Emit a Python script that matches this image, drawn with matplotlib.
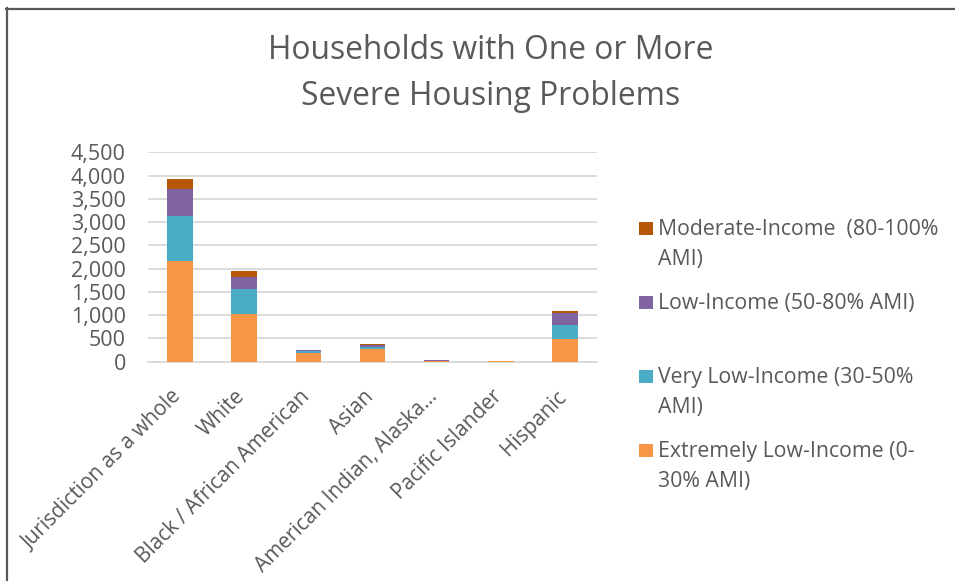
import matplotlib
matplotlib.use("Agg")
import matplotlib.pyplot as plt
from matplotlib.lines import Line2D
from matplotlib.patches import Rectangle
from matplotlib.transforms import ScaledTranslation
import numpy as np

categories = ["Jurisdiction as a whole", "White", "Black / African American", "Asian",
              "American Indian, Alaska...", "Pacific Islander", "Hispanic"]
series_names = ["Extremely Low-Income (0-\n30% AMI)",
                "Very Low-Income (30-50%\nAMI)",
                "Low-Income (50-80% AMI)",
                "Moderate-Income  (80-100%\nAMI)"]
extremely_low = [2160, 1030, 195, 280, 10, 5, 490]
very_low = [965, 525, 35, 35, 5, 0, 300]
low = [595, 260, 15, 50, 15, 0, 255]
moderate = [215, 130, 5, 10, 0, 0, 50]
yticks = [0, 500, 1000, 1500, 2000, 2500, 3000, 3500, 4000, 4500]
title_lines = ["Households with One or More", "Severe Housing Problems"]

colors = ["#F79646", "#4BACC6", "#8064A2", "#B65708"]
text_color = "#595959"
grid_color = "#D9D9D9"
FONT = "Open Sans"

W, H = 955, 581
fig = plt.figure(figsize=(W / 100, H / 100), dpi=100)

def fx(px):
    return px / W

def fy(py):
    return 1 - py / H

# axes area in pixels
left, right, top, bottom = 148, 597, 152.4, 361.7
ax = fig.add_axes([fx(left), fy(bottom), fx(right) - fx(left), fy(top) - fy(bottom)])

x = np.arange(len(categories))
data = [extremely_low, very_low, low, moderate]
base = np.zeros(len(categories))
for vals, c in zip(data, colors):
    ax.bar(x, vals, width=0.4, bottom=base, color=c, zorder=3)
    base = base + np.array(vals)

ax.set_xlim(-0.5, len(categories) - 0.5)
ax.set_ylim(0, 4500)
ax.set_yticks(yticks)
ax.set_yticklabels([f"{v:,}" for v in yticks], fontsize=15.5, color=text_color, family=FONT)
ax.yaxis.grid(True, color=grid_color, linewidth=1.3, zorder=0)
ax.set_axisbelow(True)
for s in ["top", "right", "left"]:
    ax.spines[s].set_visible(False)
ax.spines["bottom"].set_color(grid_color)
ax.spines["bottom"].set_linewidth(1.3)
ax.tick_params(axis="y", length=0, pad=16)
ax.tick_params(axis="x", length=0, pad=23)
ax.set_xticks(x)
ax.set_xticklabels(categories, rotation=45, ha="right", va="center",
                   rotation_mode="anchor", fontsize=15, color=text_color, family=FONT)
for lab in ax.get_xticklabels():
    lab.set_transform(lab.get_transform() + ScaledTranslation(-2 / 100, 0, fig.dpi_scale_trans))

# title
for i, line in enumerate(title_lines):
    fig.text(fx(491), fy(59.3 + i * 46), line, ha="center", va="baseline",
             fontsize=22.9, color=text_color, family=FONT)

# legend (reverse order, top-aligned slots)
for k, idx in enumerate(reversed(range(len(series_names)))):
    slot_top = 221.7 + k * 74
    fig.patches.append(Rectangle((fx(639), fy(slot_top + 13.5)), fx(13.5), fy(0) - fy(13.5),
                                 transform=fig.transFigure, facecolor=colors[idx],
                                 edgecolor="none"))
    for j, line in enumerate(series_names[idx].split("\n")):
        fig.text(fx(658), fy(slot_top + 13.5 + j * 30), line, ha="left", va="baseline",
                 fontsize=15.3, color=text_color, family=FONT)

# chart border (top and left visible)
fig.add_artist(Line2D([fx(6), fx(W)], [fy(8.5), fy(8.5)], transform=fig.transFigure,
                      color="#595959", linewidth=1.6))
fig.add_artist(Line2D([fx(6.5), fx(6.5)], [fy(8), fy(H)], transform=fig.transFigure,
                      color="#595959", linewidth=1.6))

fig.savefig("out.png", dpi=100)
